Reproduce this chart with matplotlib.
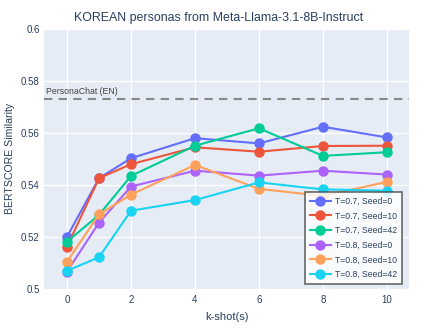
import matplotlib
matplotlib.use("Agg")
import matplotlib.pyplot as plt

k_shots = [0, 1, 2, 4, 6, 8, 10]
series_labels = ["T=0.7, Seed=0", "T=0.7, Seed=10", "T=0.7, Seed=42",
                 "T=0.8, Seed=0", "T=0.8, Seed=10", "T=0.8, Seed=42"]
t07_s0 = [0.5201, 0.5426, 0.5503, 0.5580, 0.5560, 0.5624, 0.5583]
t07_s10 = [0.5163, 0.5426, 0.5480, 0.5545, 0.5528, 0.5550, 0.5551]
t07_s42 = [0.5182, 0.5285, 0.5435, 0.5551, 0.5618, 0.5512, 0.5526]
t08_s0 = [0.5067, 0.5255, 0.5394, 0.5455, 0.5436, 0.5455, 0.5440]
t08_s10 = [0.5105, 0.5287, 0.5363, 0.5477, 0.5385, 0.5358, 0.5412]
t08_s42 = [0.5070, 0.5122, 0.5301, 0.5342, 0.5410, 0.5383, 0.5378]
series_values = [t07_s0, t07_s10, t07_s42, t08_s0, t08_s10, t08_s42]
colors = ["#636EFA", "#EF553B", "#00CC96", "#AB63FA", "#FFA15A", "#19D3F3"]
baseline_value = 0.573
baseline_label = "PersonaChat (EN)"
x_ticks = [0, 2, 4, 6, 8, 10]
y_ticks = [0.5, 0.52, 0.54, 0.56, 0.58, 0.6]
y_tick_labels = ["0.5", "0.52", "0.54", "0.56", "0.58", "0.6"]

plt.rcParams['font.family'] = ['Liberation Sans', 'DejaVu Sans']
text_color = "#2a3f5f"

fig = plt.figure(figsize=(4.39, 3.29), dpi=100)
ax = fig.add_axes([0.1002, 0.1216, 0.8315, 0.7903])
ax.set_facecolor("#E5ECF6")
for s in ax.spines.values():
    s.set_visible(False)
ax.grid(True, color="white", linewidth=1.0)
ax.set_axisbelow(True)

for vals, lab, c in zip(series_values, series_labels, colors):
    ax.plot(k_shots, vals, color=c, linewidth=1.5, marker="o", markersize=6.5,
            label=lab, zorder=3)

ax.axhline(baseline_value, color="#888888", linestyle=(0, (4, 3)), linewidth=1.5, zorder=2)
ax.text(-0.65, baseline_value + 0.0012, baseline_label, fontsize=6.3,
        color="#444444", va="bottom", ha="left")

ax.set_xlim(-0.72, 10.69)
ax.set_ylim(0.5, 0.6)
ax.set_xticks(x_ticks)
ax.set_yticks(y_ticks)
ax.set_yticklabels(y_tick_labels)
ax.tick_params(length=0, labelsize=7, colors=text_color)
ax.tick_params(axis="x", pad=4)
ax.tick_params(axis="y", pad=3)

fig.text(0.517, 1 - 317 / 329, "k-shot(s)", ha="center", va="center",
         fontsize=8, color=text_color)
fig.text(10 / 439, 1 - 158 / 329, "BERTSCORE Similarity", ha="center", va="center",
         rotation=90, fontsize=7.6, color=text_color)
fig.text(0.4989, 0.945, "KOREAN personas from Meta-Llama-3.1-8B-Instruct",
         ha="center", va="center", fontsize=8.9, color=text_color)

leg = ax.legend(loc="lower right", bbox_to_anchor=(0.981, 0.02), fontsize=6.2,
                frameon=True, fancybox=False, handlelength=2.45, handletextpad=0.5,
                borderpad=0.55, labelspacing=0.66, markerscale=1.0, borderaxespad=0)
leg.get_frame().set_edgecolor("#444444")
leg.get_frame().set_linewidth(1.2)
leg.get_frame().set_facecolor((1, 1, 1, 0.5))
for t in leg.get_texts():
    t.set_color(text_color)

fig.savefig("out.png", dpi=100)
